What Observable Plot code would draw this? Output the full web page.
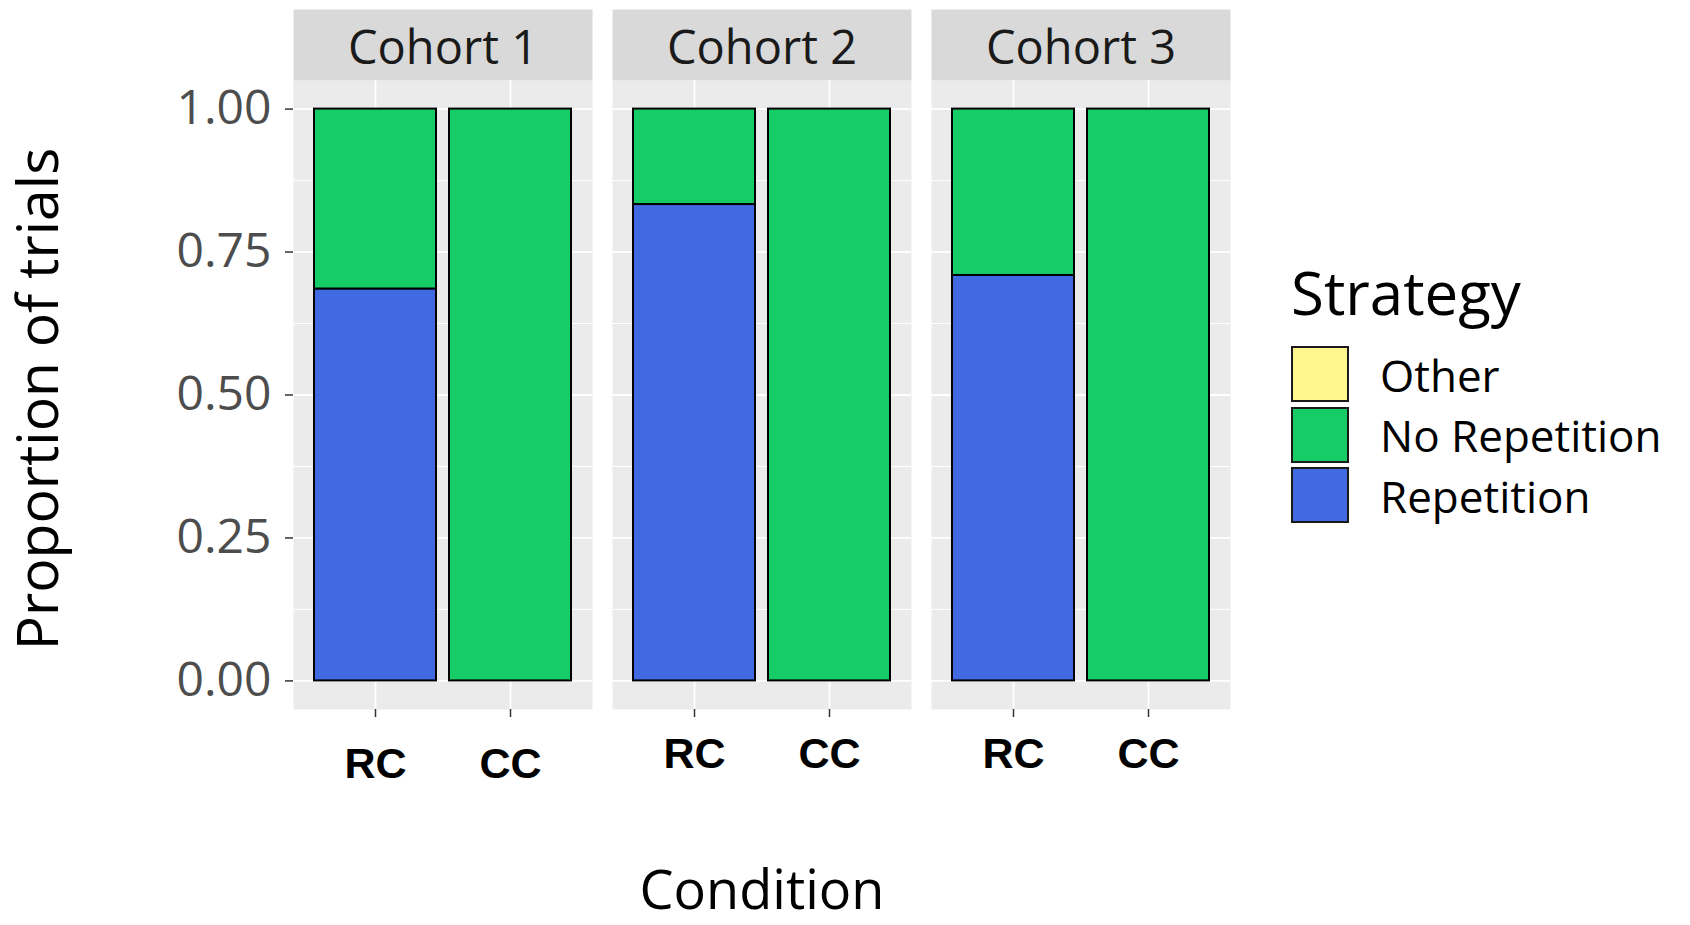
<!DOCTYPE html>
<html>
<head>
<meta charset="utf-8">
<script src="https://cdn.jsdelivr.net/npm/d3@7"></script>
<script src="https://cdn.jsdelivr.net/npm/@observablehq/plot@0.6"></script>
<style>
  html, body { margin: 0; padding: 0; background: #ffffff; overflow: hidden; }
  #wrap { position: relative; width: 1690px; height: 925px; }
  #legend { position: absolute; left: 0; top: 0; font-family: 'Open Sans', sans-serif; color: #000; }
  .lg-title { position: absolute; font-size: 60px; line-height: 1; white-space: nowrap; }
  .lg-key { position: absolute; box-sizing: border-box; border: 2px solid #1a1a1a; }
  .lg-label { position: absolute; font-size: 44px; line-height: 1; white-space: nowrap; }
</style>
</head>
<body>
<div id="wrap"><div id="legend"></div></div>
<script>
// ---- data ----
const cohorts = ["Cohort 1", "Cohort 2", "Cohort 3"];
const conditions = ["RC", "CC"];
const strategies = ["Other", "No Repetition", "Repetition"];
const strategyColors = ["#FFF68F", "#16CC66", "#4169E1"];
const stackOrder = ["Repetition", "No Repetition", "Other"];

// proportions per cohort (Cohort 1, 2, 3)
const repetitionRC = [0.685, 0.833, 0.709];
const noRepetitionRC = [0.315, 0.167, 0.291];
const otherRC = [0, 0, 0];
const repetitionCC = [0, 0, 0];
const noRepetitionCC = [1, 1, 1];
const otherCC = [0, 0, 0];

const yTicks = [0, 0.25, 0.5, 0.75, 1];
const yMinorTicks = [0.125, 0.375, 0.625, 0.875];
const xTitle = "Condition";
const yTitle = "Proportion of trials";
const legendTitle = "Strategy";

// ---- table ----
const series = {
  RC: {"Repetition": repetitionRC, "No Repetition": noRepetitionRC, "Other": otherRC},
  CC: {"Repetition": repetitionCC, "No Repetition": noRepetitionCC, "Other": otherCC}
};
const rows = [];
cohorts.forEach((cohort, i) => {
  conditions.forEach(condition => {
    strategies.forEach(strategy => {
      rows.push({cohort, condition, strategy, value: series[condition][strategy][i]});
    });
  });
});
const labelRows = [];
cohorts.forEach(cohort => conditions.forEach(condition => labelRows.push({cohort, condition})));

const W = 1690, H = 925;
const mL = 292, mR = 459, mT = 80, mB = 216;
const innerH = H - mT - mB;

const plot = Plot.plot({
  width: W,
  height: H,
  marginLeft: mL,
  marginRight: mR,
  marginTop: mT,
  marginBottom: mB,
  style: {fontFamily: "'Open Sans', sans-serif", background: "transparent", overflow: "visible"},
  fx: {domain: cohorts, paddingInner: 20 / 320, paddingOuter: 0, axis: null, label: null},
  x: {domain: conditions, paddingInner: 0.1, paddingOuter: 0.15, axis: null, label: null},
  y: {domain: [-0.05, 1.05], axis: null, label: null},
  color: {domain: strategies, range: strategyColors},
  marks: [
    Plot.frame({fill: "#ebebeb", stroke: "none"}),
    Plot.frame({fill: "#d9d9d9", stroke: "none", insetTop: -71, insetBottom: innerH}),
    Plot.gridY(yMinorTicks, {stroke: "#ffffff", strokeOpacity: 1, strokeWidth: 1}),
    Plot.gridY(yTicks, {stroke: "#ffffff", strokeOpacity: 1, strokeWidth: 1.8}),
    Plot.gridX(conditions, {stroke: "#ffffff", strokeOpacity: 1, strokeWidth: 1.8}),
    Plot.axisY(yTicks, {
      tickFormat: d3.format(".2f"), tickSize: 8, tickPadding: 14,
      fontSize: 48, fill: "#4d4d4d", stroke: "#333333", strokeWidth: 1.5, label: null
    }),
    Plot.axisX({tickSize: 8, stroke: "#333333", strokeWidth: 1.5, fill: "none", label: null}),
    Plot.barY(rows.filter(d => d.value > 0), Plot.stackY({order: stackOrder}, {
      fx: "cohort", x: "condition", y: "value", fill: "strategy",
      stroke: "#000000", strokeWidth: 2
    })),
    Plot.text(cohorts, {
      fx: d => d, text: d => d, frameAnchor: "top", lineAnchor: "middle", dy: -32,
      fontSize: 47, fill: "#1a1a1a"
    }),
    Plot.text(labelRows.filter(d => d.cohort === cohorts[0]), {
      fx: "cohort", x: "condition", text: "condition", frameAnchor: "bottom", lineAnchor: "middle", dy: 55,
      fontSize: 43, fontWeight: "bold", fontFamily: "'Liberation Sans', Arial, sans-serif", fill: "#000000"
    }),
    Plot.text(labelRows.filter(d => d.cohort !== cohorts[0]), {
      fx: "cohort", x: "condition", text: "condition", frameAnchor: "bottom", lineAnchor: "middle", dy: 45,
      fontSize: 43, fontWeight: "bold", fontFamily: "'Liberation Sans', Arial, sans-serif", fill: "#000000"
    }),
    Plot.text([yTitle], {
      fx: () => cohorts[0], text: d => d, frameAnchor: "left", textAnchor: "middle", lineAnchor: "middle",
      rotate: -90, dx: -254, dy: 4, fontSize: 57, fill: "#000000"
    }),
    Plot.text([xTitle], {
      fx: () => cohorts[1], text: d => d, frameAnchor: "bottom", lineAnchor: "middle", dy: 182,
      fontSize: 54, fill: "#000000"
    })
  ]
});
document.getElementById("wrap").prepend(plot);

// ---- legend (HTML) ----
const legend = document.getElementById("legend");
const lgLeft = 1291, keyTop0 = 346, keyPitch = 60.5, keyW = 58, keyH = 56, labelLeft = 1380;
const title = document.createElement("div");
title.className = "lg-title";
title.textContent = legendTitle;
title.style.left = lgLeft + "px";
title.style.top = (315 - 0.888 * 60) + "px";
legend.appendChild(title);
strategies.forEach((s, i) => {
  const top = keyTop0 + i * keyPitch;
  const key = document.createElement("div");
  key.className = "lg-key";
  key.style.left = lgLeft + "px";
  key.style.top = top + "px";
  key.style.width = keyW + "px";
  key.style.height = keyH + "px";
  key.style.background = strategyColors[i];
  legend.appendChild(key);
  const lab = document.createElement("div");
  lab.className = "lg-label";
  lab.textContent = s;
  lab.style.left = labelLeft + "px";
  lab.style.top = (top + 46 - 0.888 * 44) + "px";
  legend.appendChild(lab);
});
</script>
</body>
</html>
